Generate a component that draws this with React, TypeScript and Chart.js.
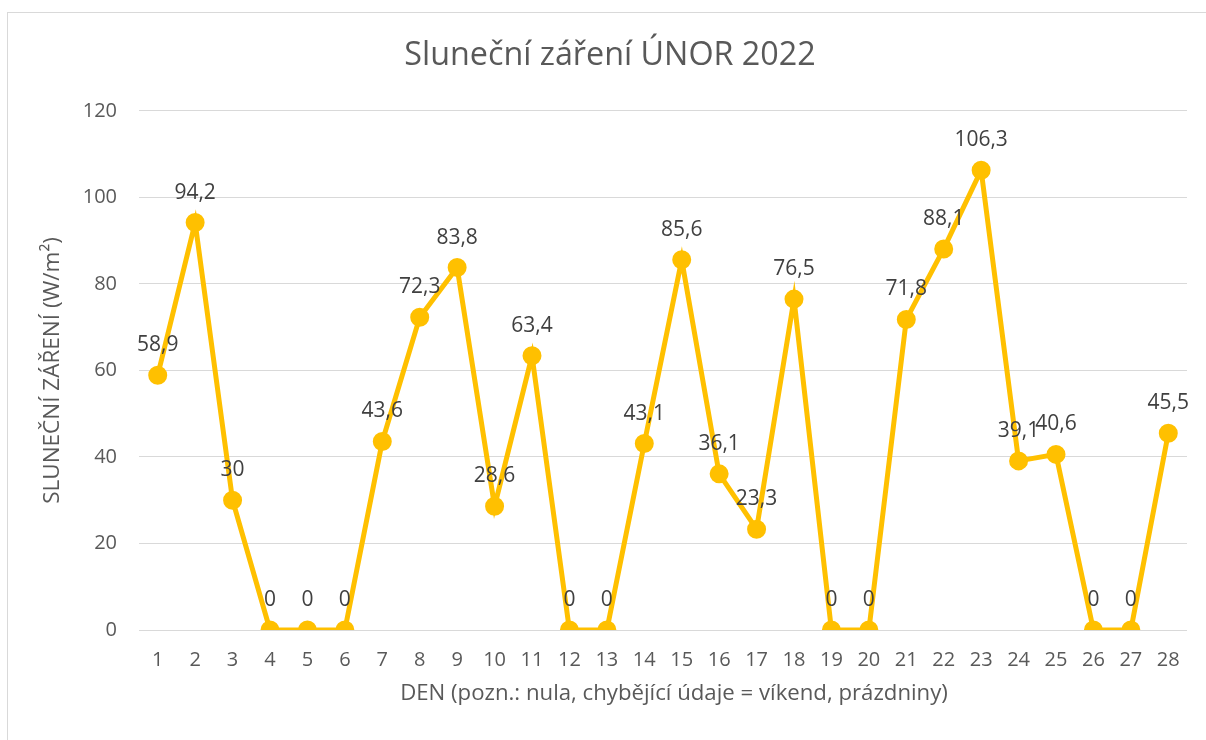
import React, { useEffect, useRef } from "react";
import { Chart, registerables } from "chart.js";

Chart.register(...registerables);

const days = Array.from({ length: 28 }, (_, i) => String(i + 1));
const radiation = [
  58.9, 94.2, 30, 0, 0, 0, 43.6, 72.3, 83.8, 28.6, 63.4, 0, 0, 43.1,
  85.6, 36.1, 23.3, 76.5, 0, 0, 71.8, 88.1, 106.3, 39.1, 40.6, 0, 0, 45.5,
];
const yTicks = [0, 20, 40, 60, 80, 100, 120];
const xTitle = "DEN (pozn.: nula, chybějící údaje = víkend, prázdniny)";

const FONT = "'Open Sans', 'Noto Sans', sans-serif";
const TEXT = "#595959";
const GOLD = "#FFC000";

const labelPlugin = {
  id: "pointLabels",
  afterDatasetsDraw(chart: any) {
    const ctx = chart.ctx;
    const meta = chart.getDatasetMeta(0);
    ctx.save();
    ctx.font = `21px ${FONT}`;
    ctx.fillStyle = "#404040";
    ctx.textAlign = "center";
    ctx.textBaseline = "middle";
    meta.data.forEach((pt: any, i: number) => {
      const v = radiation[i];
      const txt = String(v).replace(".", ",");
      ctx.fillText(txt, pt.x, pt.y - 30);
    });
    ctx.restore();
  },
};

const xTitlePlugin = {
  id: "xTitle",
  afterDraw(chart: any) {
    const ctx = chart.ctx;
    const area = chart.chartArea;
    ctx.save();
    ctx.font = `22.2px ${FONT}`;
    ctx.fillStyle = TEXT;
    ctx.textAlign = "center";
    ctx.textBaseline = "middle";
    ctx.fillText(xTitle, (area.left + area.right) / 2 + 11, area.bottom + 64);
    ctx.restore();
  },
};

export default function App() {
  const ref = useRef<HTMLCanvasElement>(null);
  useEffect(() => {
    if (!ref.current) return;
    const chart = new Chart(ref.current, {
      type: "line",
      data: {
        labels: days,
        datasets: [
          {
            data: radiation,
            borderColor: GOLD,
            backgroundColor: GOLD,
            borderWidth: 5,
            pointRadius: 7,
            pointHoverRadius: 7,
            pointBackgroundColor: GOLD,
            pointBorderColor: GOLD,
            tension: 0,
          },
        ],
      },
      options: {
        animation: false,
        responsive: false,
        maintainAspectRatio: false,
        layout: { padding: { left: 25, right: 19, top: 0, bottom: 0 } },
        plugins: {
          legend: { display: false },
          tooltip: { enabled: false },
          title: {
            display: true,
            text: "Sluneční záření ÚNOR 2022",
            color: TEXT,
            font: { family: FONT, size: 32.3, weight: "normal" },
            padding: { top: 23.6, bottom: 35.6 },
          },
        },
        scales: {
          x: {
            offset: true,
            grid: { display: false, drawTicks: false },
            border: { display: false },
            ticks: {
              color: TEXT,
              font: { family: FONT, size: 20 },
              padding: 18,
              maxRotation: 0,
              autoSkip: false,
            },
            afterFit: (s: any) => {
              s.height = 110;
            },
          },
          y: {
            min: 0,
            max: 120,
            afterBuildTicks: (s: any) => {
              s.ticks = yTicks.map((v) => ({ value: v }));
            },
            grid: { color: "#d9d9d9", lineWidth: 1, drawTicks: false },
            border: { display: false },
            ticks: {
              color: TEXT,
              font: { family: FONT, size: 20 },
              padding: 22,
            },
            title: {
              display: true,
              text: "SLUNEČNÍ ZÁŘENÍ (W/m²)",
              color: TEXT,
              font: { family: FONT, size: 22.5 },
              padding: { top: 6, bottom: 0 },
            },
            afterFit: (s: any) => {
              s.width = 106;
            },
          },
        },
      },
      plugins: [labelPlugin, xTitlePlugin],
    });
    return () => chart.destroy();
  }, []);
  return (
    <div
      style={{
        position: "absolute",
        left: 7,
        top: 12,
        width: 1220,
        height: 760,
        border: "1px solid #d9d9d9",
        boxSizing: "border-box",
        background: "#fff",
      }}
    >
      <canvas ref={ref} width={1198} height={727} style={{ display: "block" }} />
    </div>
  );
}
